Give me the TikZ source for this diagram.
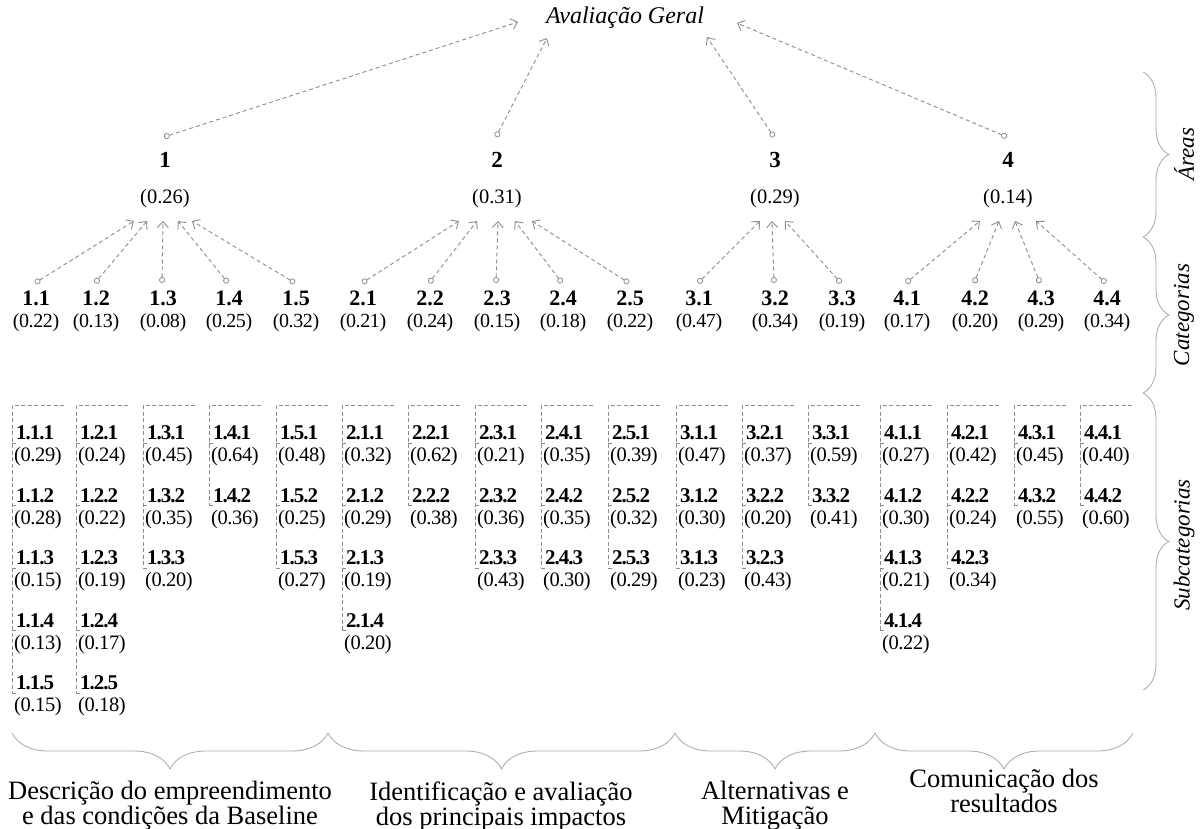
\documentclass[tikz,border=0pt]{standalone}
\usepackage{fontspec}
\setmainfont{Liberation Serif}
\usetikzlibrary{arrows.meta,decorations.pathreplacing}
\definecolor{linkgray}{RGB}{140,140,140}
\definecolor{bracegray}{RGB}{175,175,175}

\tikzset{
  link/.style={draw=linkgray, line width=0.9pt, dash pattern=on 4pt off 3pt,
    {Circle[open,length=6pt,width=6pt,line width=0.8pt,sep=0pt]}-{Straight Barb[length=6pt,width=11pt,line width=0.9pt]}},
  tree/.style={draw=linkgray, line width=0.8pt, dash pattern=on 4pt off 2.5pt},
  rootlbl/.style={font=\fontsize{24}{28}\selectfont\itshape, inner sep=1pt},
  arealbl/.style={font=\fontsize{23}{26}\selectfont\bfseries, inner sep=1pt},
  areaval/.style={font=\fontsize{20.5}{24}\selectfont, inner sep=1pt},
  catlbl/.style={font=\fontsize{22}{24}\selectfont\bfseries, inner sep=1pt},
  catval/.style={font=\fontsize{20}{22}\selectfont\addfontfeatures{LetterSpace=-2}, inner sep=1pt},
  sublbl/.style={font=\fontsize{21}{22}\selectfont\bfseries\addfontfeatures{LetterSpace=-5}, inner sep=0pt, anchor=west},
  subval/.style={font=\fontsize{20.5}{22}\selectfont\addfontfeatures{LetterSpace=-2}, inner sep=0pt, anchor=west},
  grouptxt/.style={font=\fontsize{26.5}{25}\selectfont, align=center, inner sep=0pt},
  sidetxt/.style={font=\fontsize{23}{26}\selectfont\itshape, rotate=90, inner sep=0pt},
  bottombrace/.style={draw=bracegray, line width=0.9pt, decorate,
    decoration={brace, mirror, amplitude=36pt, raise=0pt}},
  sidebrace/.style={draw=bracegray, line width=0.9pt, decorate,
    decoration={brace, amplitude=26pt}},
}

\begin{document}
\begin{tikzpicture}[x=1pt,y=-1pt]
\useasboundingbox (0,0) rectangle (1200,829);

% ---------- root ----------
\node[rootlbl] (root) at (625,18) {Avaliação Geral};
\coordinate (rin1) at (518,22);
\coordinate (rin2) at (547,38);
\coordinate (rin3) at (707,37);
\coordinate (rin4) at (737,23);

% ---------- areas ----------
\foreach \i/\x/\v in {1/165/0.26, 2/497/0.31, 3/775/0.29, 4/1008/0.14}{
  \coordinate (ac\i) at (\x-1,137);
  \node[arealbl] (an\i) at (\x,160) {\i};
  \node[areaval] (av\i) at (\x,199) {(\v)};
  \draw[link] (ac\i) -- (rin\i);
}

% ---------- categories ----------
\foreach \a/\b/\x/\v/\tx in {
  1/1/36/0.22/134, 1/2/96/0.13/147, 1/3/163/0.08/163, 1/4/229/0.25/178, 1/5/296/0.32/192,
  2/1/363/0.21/459, 2/2/430/0.24/477, 2/3/497/0.15/498, 2/4/563/0.18/515, 2/5/630/0.22/532,
  3/1/699/0.47/760, 3/2/775/0.34/772, 3/3/842/0.19/785,
  4/1/907/0.17/980, 4/2/975/0.20/999, 4/3/1041/0.29/1015, 4/4/1107/0.34/1036}{
  \coordinate (cc\a-\b) at (\x-1,283);
  \coordinate (ct\a-\b) at (\tx,221);
  \node[catlbl] (cn\a-\b) at (\x,298) {\a.\b};
  \node[catval] (cv\a-\b) at (\x,323) {(\v)};
  \draw[link] (cc\a-\b) -- (ct\a-\b);
}

% ---------- subcategories ----------
% column: area / category / left x / list of weights
\foreach \a/\b/\x/\vals in {
  1/1/12/{0.29,0.28,0.15,0.13,0.15},
  1/2/76/{0.24,0.22,0.19,0.17,0.18},
  1/3/143/{0.45,0.35,0.20},
  1/4/209/{0.64,0.36},
  1/5/276/{0.48,0.25,0.27},
  2/1/342/{0.32,0.29,0.19,0.20},
  2/2/408/{0.62,0.38},
  2/3/475/{0.21,0.36,0.43},
  2/4/541/{0.35,0.35,0.30},
  2/5/608/{0.39,0.32,0.29},
  3/1/676/{0.47,0.30,0.23},
  3/2/742/{0.37,0.20,0.43},
  3/3/808/{0.59,0.41},
  4/1/880/{0.27,0.30,0.21,0.22},
  4/2/947/{0.42,0.24,0.34},
  4/3/1014/{0.45,0.55},
  4/4/1080/{0.40,0.60}}{
  \coordinate (top\a-\b) at (\x+52,405);
  \coordinate (corner\a-\b) at (\x,405);
  \foreach \v [count=\k] in \vals {
    \pgfmathsetmacro{\ly}{433+62.5*(\k-1)}
    \node[sublbl] (sn\a-\b-\k) at (\x+4,\ly) {\a.\b.\k};
    \node[subval] (sv\a-\b-\k) at (\x+2,\ly+24) {(\v)};
    \coordinate (tick\a-\b-\k) at (\x,\ly+10);
    \draw[tree] (tick\a-\b-\k) -- ++(6,0);
    \xdef\lastk{\k}
  }
  \draw[tree] (top\a-\b) -- (corner\a-\b) -- (tick\a-\b-\lastk);
}

% ---------- bottom groups ----------
\coordinate (g0) at (12,733);
\coordinate (g1) at (328,733);
\coordinate (g2) at (675,733);
\coordinate (g3) at (875,733);
\coordinate (g4) at (1133,733);
\draw[bottombrace] (g0) -- (g1);
\draw[bottombrace] (g1) -- (g2);
\draw[bottombrace] (g2) -- (g3);
\draw[bottombrace] (g3) -- (g4);
\node[grouptxt] (t1) at (170,806) {Descrição do empreendimento\\e das condições da Baseline};
\node[grouptxt] (t2) at (501,806) {Identificação e avaliação\\dos principais impactos};
\node[grouptxt] (t3) at (775,806) {Alternativas e\\Mitigação};
\node[grouptxt] (t4) at (1004,791) {Comunicação dos\\resultados};

% ---------- side levels ----------
\coordinate (s0) at (1143,72);
\coordinate (s1) at (1143,237);
\coordinate (s2) at (1143,393);
\coordinate (s3) at (1143,690);
\draw[sidebrace] (s0) -- (s1);
\draw[sidebrace] (s1) -- (s2);
\draw[sidebrace] (s2) -- (s3);
\node[sidetxt] (l1) at (1184,154) {Áreas};
\node[sidetxt] (l2) at (1184,315) {Categorias};
\node[sidetxt] (l3) at (1184,545) {Subcategorias};
\end{tikzpicture}
\end{document}
